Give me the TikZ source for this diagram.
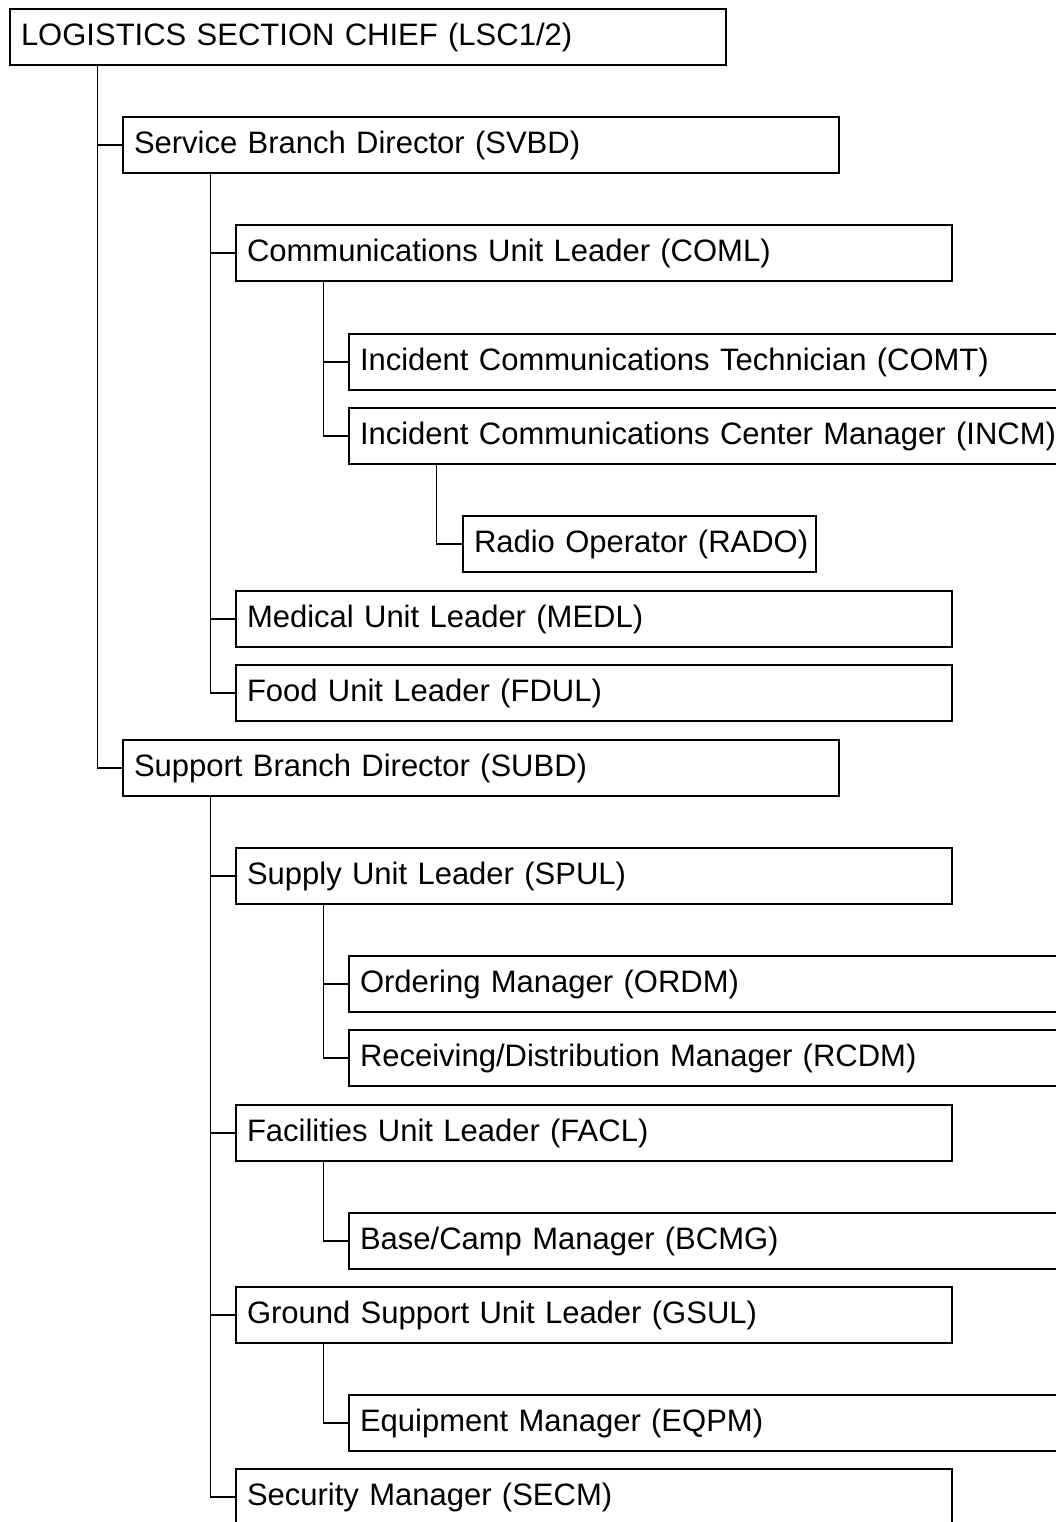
\documentclass[tikz,border=0pt]{standalone}
\usepackage{fontspec}
\setmainfont{Liberation Sans}
\tikzset{
	post/.style={
		draw, line width=2pt, anchor=north west, inner xsep=11pt, inner ysep=0pt,
		minimum height=56pt, text width=694pt, align=left,
		execute at begin node={\hbox\bgroup}, execute at end node={\egroup},
		font=\fontsize{31}{36}\selectfont},
	shortpost/.style={post, text width=331pt},
	link/.style={line width=1.8pt}
}

\begin{document}
\begin{tikzpicture}[x=1pt,y=1pt,yscale=-1,xscale=1]
\useasboundingbox (0,0) rectangle (1056,1522);

% section chief and branches
\node [post] (lsc) at (9,8) {LOGISTICS SECTION CHIEF (LSC1/2)};
\node [post] (svbd) at (122,116) {Service Branch Director (SVBD)};
\node [post] (subd) at (122,739) {Support Branch Director (SUBD)};

% service branch
\node [post] (coml) at (235,224) {Communications Unit Leader (COML)};
\node [post] (comt) at (348,333) {Incident Communications Technician (COMT)};
\node [post] (incm) at (348,407) {Incident Communications Center Manager (INCM)};
\node [shortpost] (rado) at (462,515) {Radio Operator (RADO)};
\node [post] (medl) at (235,590) {Medical Unit Leader (MEDL)};
\node [post] (fdul) at (235,664) {Food Unit Leader (FDUL)};

% support branch
\node [post] (spul) at (235,847) {Supply Unit Leader (SPUL)};
\node [post] (ordm) at (348,955) {Ordering Manager (ORDM)};
\node [post] (rcdm) at (348,1029) {Receiving/Distribution Manager (RCDM)};
\node [post] (facl) at (235,1104) {Facilities Unit Leader (FACL)};
\node [post] (bcmg) at (348,1212) {Base/Camp Manager (BCMG)};
\node [post] (gsul) at (235,1286) {Ground Support Unit Leader (GSUL)};
\node [post] (eqpm) at (348,1394) {Equipment Manager (EQPM)};
\node [post] (secm) at (235,1468) {Security Manager (SECM)};

% reporting lines
\foreach \boss/\staff in {lsc/svbd, lsc/subd,
	svbd/coml, svbd/medl, svbd/fdul,
	coml/comt, coml/incm, incm/rado,
	subd/spul, subd/facl, subd/gsul, subd/secm,
	spul/ordm, spul/rcdm, facl/bcmg, gsul/eqpm}
	\draw [link] ([xshift=88.5pt]\boss.south west) |- (\staff.west);

\end{tikzpicture}
\end{document}
